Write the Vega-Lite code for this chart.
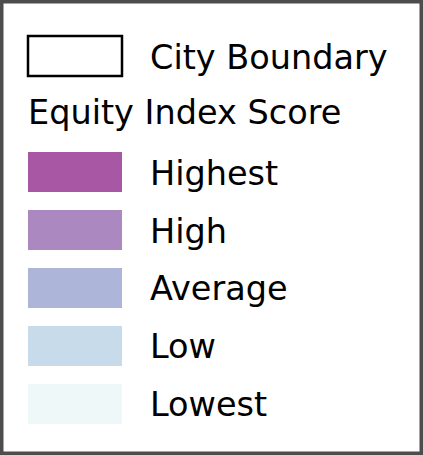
{
  "$schema": "https://vega.github.io/schema/vega-lite/v6.json",
  "width": 423,
  "height": 455,
  "padding": 0,
  "autosize": {"type": "none"},
  "background": "white",
  "config": {"view": {"stroke": "#4d4d4d", "strokeWidth": 7}},
  "data": {"values": [
    {"row": 0, "label": "City Boundary", "kind": "outline", "color": "#ffffff"},
    {"row": 1, "label": "Equity Index Score", "kind": "title", "color": "#ffffff"},
    {"row": 2, "label": "Highest", "kind": "fill", "color": "#a757a3"},
    {"row": 3, "label": "High", "kind": "fill", "color": "#ab88c0"},
    {"row": 4, "label": "Average", "kind": "fill", "color": "#adb5d8"},
    {"row": 5, "label": "Low", "kind": "fill", "color": "#c7dbea"},
    {"row": 6, "label": "Lowest", "kind": "fill", "color": "#eff8f9"}
  ]},
  "resolve": {"scale": {"x": "shared", "y": "shared"}},
  "layer": [
    {
      "transform": [{"filter": "datum.kind === 'fill'"}],
      "mark": {"type": "bar"},
      "encoding": {
        "x": {"datum": "swatch", "type": "nominal", "scale": {"domain": ["swatch", "label"], "range": [28, 244], "paddingInner": 0.2295, "paddingOuter": 0}, "axis": null},
        "y": {"field": "row", "type": "ordinal", "scale": {"domain": [0, 1, 2, 3, 4, 5, 6], "range": [36, 424], "paddingInner": 0.31, "paddingOuter": 0}, "axis": null},
        "color": {"field": "color", "type": "nominal", "scale": null, "legend": null}
      }
    },
    {
      "transform": [{"filter": "datum.kind === 'outline'"}],
      "mark": {"type": "bar", "fill": "white", "stroke": "black", "strokeWidth": 2.5},
      "encoding": {
        "x": {"datum": "swatch", "type": "nominal"},
        "y": {"field": "row", "type": "ordinal"}
      }
    },
    {
      "transform": [{"filter": "datum.kind !== 'title'"}],
      "mark": {"type": "text", "align": "left", "baseline": "alphabetic", "dy": 12.5, "font": "DejaVu Sans", "fontSize": 33.5, "color": "black"},
      "encoding": {
        "x": {"datum": "label", "type": "nominal", "bandPosition": 0},
        "y": {"field": "row", "type": "ordinal", "bandPosition": 0.5},
        "text": {"field": "label"}
      }
    },
    {
      "transform": [{"filter": "datum.kind === 'title'"}],
      "mark": {"type": "text", "align": "left", "baseline": "alphabetic", "dy": 9.5, "font": "DejaVu Sans", "fontSize": 33.5, "color": "black"},
      "encoding": {
        "x": {"datum": "swatch", "type": "nominal", "bandPosition": 0},
        "y": {"field": "row", "type": "ordinal", "bandPosition": 0.5},
        "text": {"field": "label"}
      }
    }
  ]
}
